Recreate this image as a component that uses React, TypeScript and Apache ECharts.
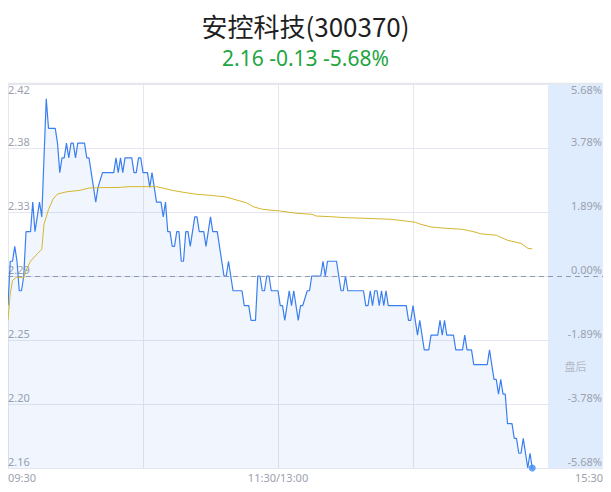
import React, { useEffect, useRef } from 'react';
import * as echarts from 'echarts';

const stockTitle = '安控科技(300370)';
const quoteText = '2.16 -0.13 -5.68%';
const afterHoursName = '盘后';

const prevClose = 2.29;
const pctRange = 5.6769;
const pctStep = 1.8923;
const sessionMinutes = 240;
const afterHoursEnd = 264.44;

const timeLabels = ['09:30', '11:30/13:00', '15:30'];

// [minute since 09:30 (lunch break removed), price]
const pricePoints: [number, number][] = [
  [0, 2.27], [1, 2.30], [2, 2.30], [3, 2.31], [4, 2.30], [5, 2.28], [6, 2.28], [7, 2.29],
  [8, 2.32], [10, 2.32], [11, 2.34], [12, 2.32], [13, 2.33], [14, 2.34], [15, 2.33],
  [17, 2.41], [18, 2.39], [21, 2.39], [22, 2.38], [23, 2.36], [24, 2.37], [25, 2.37],
  [26, 2.38], [27, 2.37], [28, 2.38], [29, 2.38], [30, 2.37], [31, 2.38], [34, 2.38],
  [35, 2.37], [36, 2.37], [39, 2.34], [40, 2.35], [42, 2.36], [47, 2.36], [48, 2.37],
  [49, 2.36], [50, 2.37], [51, 2.36], [52, 2.37], [55, 2.37], [56, 2.36], [57, 2.36],
  [58, 2.37], [59, 2.37], [60, 2.36], [62, 2.36], [63, 2.35], [64, 2.36], [65, 2.35],
  [66, 2.34], [68, 2.34], [69, 2.33], [70, 2.34], [71, 2.32], [72, 2.32], [73, 2.31],
  [74, 2.31], [75, 2.32], [76, 2.32], [77, 2.30], [78, 2.30], [79, 2.32], [80, 2.32],
  [81, 2.31], [83, 2.33], [84, 2.33], [85, 2.32], [87, 2.32], [88, 2.31], [90, 2.33],
  [91, 2.32], [93, 2.32], [96, 2.29], [97, 2.29], [98, 2.30], [100, 2.28], [104, 2.28],
  [105, 2.27], [107, 2.27], [108, 2.26], [110, 2.26], [111, 2.29], [112, 2.29], [113, 2.28],
  [114, 2.28], [115, 2.29], [116, 2.29], [117, 2.28], [120, 2.28], [121, 2.27], [122, 2.27],
  [123, 2.26], [124, 2.27], [125, 2.28], [126, 2.27], [127, 2.28], [129, 2.26], [130, 2.27],
  [131, 2.27], [133, 2.28], [134, 2.28], [135, 2.29], [139, 2.29], [140, 2.30], [141, 2.29],
  [142, 2.30], [146, 2.30], [148, 2.28], [149, 2.28], [150, 2.29], [151, 2.28], [158, 2.28],
  [159, 2.27], [160, 2.27], [161, 2.28], [162, 2.27], [163, 2.28], [164, 2.28], [165, 2.27],
  [166, 2.28], [167, 2.27], [168, 2.28], [169, 2.27], [177, 2.27], [178, 2.26], [179, 2.26],
  [180, 2.27], [182, 2.25], [183, 2.26], [185, 2.24], [187, 2.24], [188, 2.25], [191, 2.25],
  [192, 2.26], [193, 2.25], [194, 2.26], [195, 2.25], [198, 2.25], [199, 2.24], [202, 2.24],
  [203, 2.25], [204, 2.24], [206, 2.24], [207, 2.23], [213, 2.23], [214, 2.24], [216, 2.22],
  [217, 2.22], [218, 2.21], [219, 2.22], [220, 2.21], [221, 2.21], [222, 2.19], [224, 2.19],
  [225, 2.18], [226, 2.18], [227, 2.17], [228, 2.17], [229, 2.18], [231, 2.16], [232, 2.17],
  [233, 2.16],
];

// average price line
const avgPoints: [number, number][] = [
  [0, 2.26], [1, 2.278], [2, 2.287], [4, 2.2895], [5, 2.289], [7, 2.2886], [8, 2.2936],
  [10, 2.3], [13, 2.305], [15, 2.308], [16, 2.325], [18, 2.335], [20, 2.342], [22, 2.3455],
  [26, 2.347], [32, 2.348], [36, 2.3496], [41, 2.3498], [50, 2.35], [54, 2.3505], [66, 2.3505],
  [73, 2.348], [79, 2.3464], [84, 2.3453], [90, 2.3446], [96, 2.3437], [99, 2.3426],
  [103, 2.3408], [106, 2.3396], [109, 2.3369], [113, 2.3352], [121, 2.334], [128, 2.3325],
  [135, 2.3318], [137, 2.3306], [143, 2.3302], [150, 2.3295], [158, 2.3291], [170, 2.3284],
  [179, 2.3268], [181, 2.3264], [183, 2.3252], [188, 2.3232], [193, 2.3225], [202, 2.3216],
  [207, 2.32], [210, 2.3186], [217, 2.3176], [222, 2.3142], [228, 2.3121], [231, 2.3088],
  [233, 2.3083],
];

const toPct = (p: number) => ((p - prevClose) / prevClose) * 100;
const isMax = (v: number) => Math.abs(v - pctRange) < 1e-6;
const priceLabel = (v: number) => (prevClose * (1 + v / 100)).toFixed(2);
const pctLabel = (v: number) => (Math.abs(v) < 1e-6 ? 0 : v).toFixed(2) + '%';

const labelColor = '#9ba1ae';
const gridColor = '#e4e7ef';

const yBase = {
  type: 'value',
  min: -pctRange,
  max: pctRange,
  interval: pctStep,
  axisLine: { show: false },
  axisTick: { show: false },
};

const App: React.FC = () => {
  const chartRef = useRef<HTMLDivElement>(null);

  useEffect(() => {
    if (!chartRef.current) return;
    const chart = echarts.init(chartRef.current, null, { renderer: 'svg' });
    const last = pricePoints[pricePoints.length - 1];

    chart.setOption({
      animation: false,
      textStyle: { fontFamily: 'Noto Sans, Noto Sans CJK SC, sans-serif' },
      title: {
        text: stockTitle,
        subtext: quoteText,
        left: 'center',
        top: 7,
        itemGap: 10,
        textStyle: {
          fontSize: 26,
          fontWeight: 'normal',
          color: '#1f1f1f',
          fontFamily: 'Noto Sans CJK SC, Noto Sans, sans-serif',
        },
        subtextStyle: {
          fontSize: 21,
          color: '#1fa53f',
          fontFamily: 'Noto Sans, Noto Sans CJK SC, sans-serif',
        },
      },
      graphic: [
        {
          type: 'line',
          shape: { x1: 0, y1: 83.5, x2: 611, y2: 83.5 },
          style: { stroke: '#e6e7ec', lineWidth: 1.5 },
          z: 10,
        },
      ],
      grid: { left: 8, right: 8, top: 84, bottom: 24, containLabel: false },
      xAxis: {
        type: 'value',
        min: 0,
        max: afterHoursEnd,
        interval: 60,
        axisLine: { show: false },
        axisTick: { show: false },
        splitLine: {
          show: true,
          showMaxLine: false,
          lineStyle: { color: gridColor, width: 1 },
        },
        axisLabel: {
          margin: 4,
          color: labelColor,
          fontSize: 11,
          showMinLabel: true,
          showMaxLabel: true,
          alignMinLabel: 'left',
          alignMaxLabel: 'right',
          formatter: (v: number) => {
            if (v === 0) return timeLabels[0];
            if (v === sessionMinutes / 2) return timeLabels[1];
            if (v >= afterHoursEnd - 0.01) return timeLabels[2];
            return '';
          },
        },
      },
      yAxis: [
        {
          ...yBase,
          position: 'left',
          splitLine: { show: true, lineStyle: { color: gridColor, width: 1 } },
          axisLabel: {
            inside: true,
            margin: 0,
            verticalAlign: 'bottom',
            lineHeight: 12,
            padding: [0, 0, 1, 0],
            color: labelColor,
            fontSize: 11,
            formatter: (v: number) => (isMax(v) ? '' : priceLabel(v)),
          },
        },
        {
          ...yBase,
          position: 'left',
          splitLine: { show: false },
          axisLabel: {
            inside: true,
            margin: 0,
            verticalAlign: 'top',
            color: labelColor,
            fontSize: 11,
            formatter: (v: number) => (isMax(v) ? priceLabel(v) : ''),
          },
        },
        {
          ...yBase,
          position: 'right',
          z: 3,
          splitLine: { show: false },
          axisLabel: {
            inside: true,
            margin: 1,
            verticalAlign: 'bottom',
            lineHeight: 12,
            padding: [0, 0, 1, 0],
            color: labelColor,
            fontSize: 11,
            formatter: (v: number) => (isMax(v) ? '' : pctLabel(v)),
          },
        },
        {
          ...yBase,
          position: 'right',
          z: 3,
          splitLine: { show: false },
          axisLabel: {
            inside: true,
            margin: 1,
            verticalAlign: 'top',
            color: labelColor,
            fontSize: 11,
            formatter: (v: number) => (isMax(v) ? pctLabel(v) : ''),
          },
        },
      ],
      series: [
        {
          type: 'line',
          name: 'price',
          z: 3,
          data: pricePoints.map(([m, p]) => [m, toPct(p)]),
          showSymbol: false,
          symbol: 'none',
          lineStyle: { color: '#3a7ff0', width: 1.2 },
          areaStyle: { color: 'rgba(58,127,240,0.1)', origin: 'start' },
          markLine: {
            silent: true,
            symbol: 'none',
            label: { show: false },
            lineStyle: { color: '#8d99b3', type: [5, 4], width: 1 },
            data: [{ yAxis: 0 }],
          },
        },
        {
          type: 'line',
          name: 'avg',
          z: 3,
          data: avgPoints.map(([m, p]) => [m, toPct(p)]),
          showSymbol: false,
          symbol: 'none',
          lineStyle: { color: '#d4b52d', width: 1 },
          markArea: {
            silent: true,
            itemStyle: { color: '#dfecfd' },
            label: {
              show: true,
              position: 'inside',
              offset: [0, 90],
              color: '#b3b9c5',
              fontSize: 11,
            },
            data: [[{ name: afterHoursName, xAxis: sessionMinutes }, { xAxis: afterHoursEnd }]],
          },
        },
        {
          type: 'scatter',
          name: 'last',
          z: 4,
          data: [[last[0], toPct(last[1])]],
          symbolSize: 7,
          itemStyle: { color: '#3c8cf6' },
        },
      ],
    });

    return () => {
      chart.dispose();
    };
  }, []);

  return <div ref={chartRef} style={{ width: 611, height: 492, margin: -8 }} />;
};

export default App;
